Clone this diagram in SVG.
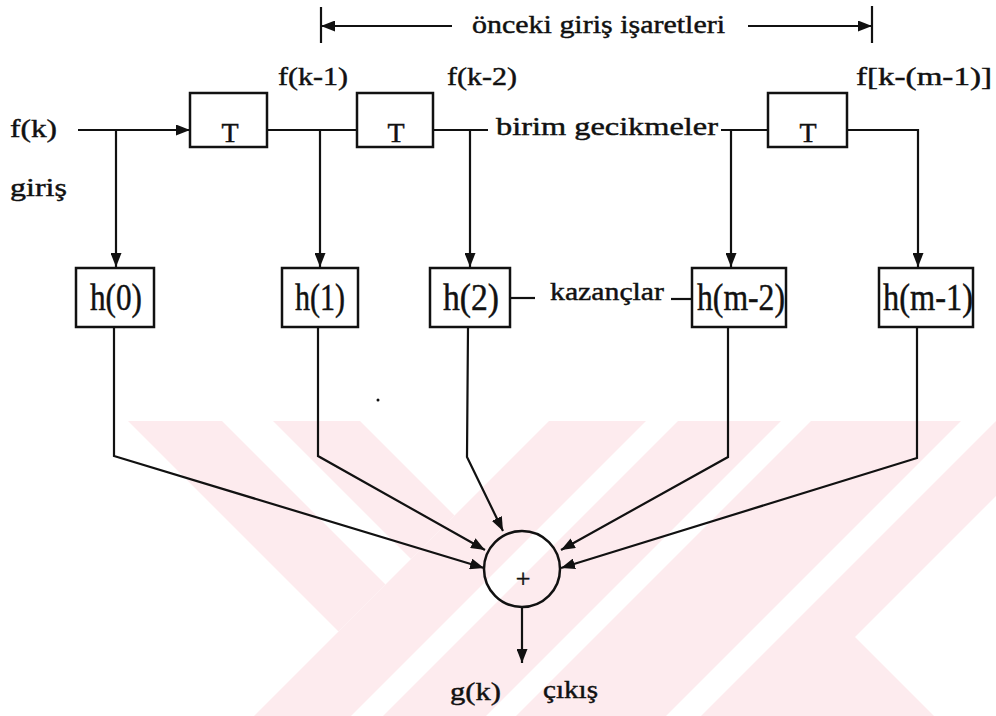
<svg xmlns="http://www.w3.org/2000/svg" width="996" height="716" viewBox="0 0 996 716" font-family="'Liberation Serif', 'Times New Roman', serif">
<style>
text{font-family:'Liberation Serif','Times New Roman',serif;fill:#111;stroke:#111;stroke-width:0.45;}
.lbl{font-size:26px;}
.t{font-size:28px;}
.h{font-size:38px;}
.box{fill:none;stroke:#111;stroke-width:2.5;}
.ln{fill:none;stroke:#111;stroke-width:2.2;}
.wm{fill:#fdebee;stroke:none;}
</style>
<defs>
<marker id="ah" markerUnits="userSpaceOnUse" markerWidth="14" markerHeight="11" refX="14" refY="5.5" orient="auto">
<path d="M0,0 L14,5.5 L0,11 Z" fill="#111"/>
</marker>
</defs>
<rect width="996" height="716" fill="#fff"/>
<g id="watermark">
<polygon class="wm" points="128,421 222,421 385.5,584.5 338.5,631.5"/>
<polygon class="wm" points="273,421 360,421 454.5,515.5 411,559"/>
<polygon class="wm" points="549,421 646,421 351,716 254,716"/>
<polygon class="wm" points="678,421 781,421 486,716 383,716"/>
<polygon class="wm" points="811,421 961,421 666,716 516,716"/>
<polygon class="wm" points="996,421 996,496 855,637 934,716 701,716"/>
</g>
<g id="connectors">
<line class="ln" x1="321" y1="7" x2="321" y2="43"/>
<line class="ln" x1="452" y1="26" x2="321" y2="26" marker-end="url(#ah)"/>
<line class="ln" x1="872" y1="6" x2="872" y2="43"/>
<line class="ln" x1="748" y1="26" x2="872" y2="26" marker-end="url(#ah)"/>
<line class="ln" x1="78" y1="130" x2="190" y2="130" marker-end="url(#ah)"/>
<line class="ln" x1="116" y1="130" x2="116" y2="267" marker-end="url(#ah)"/>
<line class="ln" x1="267" y1="130" x2="357" y2="130"/>
<line class="ln" x1="320" y1="130" x2="320" y2="267" marker-end="url(#ah)"/>
<line class="ln" x1="433" y1="130" x2="488" y2="130"/>
<line class="ln" x1="470" y1="130" x2="470" y2="267" marker-end="url(#ah)"/>
<line class="ln" x1="721" y1="130" x2="768" y2="130"/>
<line class="ln" x1="731" y1="130" x2="731" y2="267" marker-end="url(#ah)"/>
<polyline class="ln" points="847,130 918,130 918,267" marker-end="url(#ah)"/>
<line class="ln" x1="510" y1="298" x2="535" y2="298"/>
<line class="ln" x1="671" y1="299" x2="692" y2="299"/>
<polyline class="ln" points="114,327 114,456 484,568" marker-end="url(#ah)"/>
<polyline class="ln" points="318,327 318,456 485,550" marker-end="url(#ah)"/>
<polyline class="ln" points="468,327 467,457 503,531" marker-end="url(#ah)"/>
<polyline class="ln" points="728,327 728,457 561,550" marker-end="url(#ah)"/>
<polyline class="ln" points="917,327 917,458 561,568" marker-end="url(#ah)"/>
<line class="ln" x1="522" y1="608" x2="522" y2="663" marker-end="url(#ah)"/>
</g>
<g id="labels">
<text class="lbl" x="472" y="33" textLength="253" lengthAdjust="spacingAndGlyphs">önceki giriş işaretleri</text>
<text class="lbl" x="278" y="85" textLength="70" lengthAdjust="spacingAndGlyphs">f(k-1)</text>
<text class="lbl" x="447" y="85" textLength="70" lengthAdjust="spacingAndGlyphs">f(k-2)</text>
<text class="lbl" x="856" y="85" textLength="136" lengthAdjust="spacingAndGlyphs">f[k-(m-1)]</text>
<text class="lbl" x="10" y="137" textLength="47" lengthAdjust="spacingAndGlyphs">f(k)</text>
<text class="lbl" x="10" y="196" textLength="57" lengthAdjust="spacingAndGlyphs">giriş</text>
<text class="lbl" x="496" y="135" textLength="222" lengthAdjust="spacingAndGlyphs">birim gecikmeler</text>
<text class="lbl" x="550" y="300" textLength="114" lengthAdjust="spacingAndGlyphs">kazançlar</text>
<text class="lbl" x="450" y="700" textLength="51" lengthAdjust="spacingAndGlyphs">g(k)</text>
<text class="lbl" x="543" y="698" textLength="55" lengthAdjust="spacingAndGlyphs">çıkış</text>
<circle cx="378" cy="400" r="1.5" fill="#111"/>
</g>
<g id="T1"><rect class="box" x="190" y="93" width="77" height="54"/><text class="t" x="230" y="142" text-anchor="middle">T</text></g>
<g id="T2"><rect class="box" x="357" y="93" width="76" height="54"/><text class="t" x="396" y="142" text-anchor="middle">T</text></g>
<g id="T3"><rect class="box" x="768" y="93" width="79" height="54"/><text class="t" x="808" y="142" text-anchor="middle">T</text></g>
<g id="h0"><rect class="box" x="76" y="268" width="78" height="59"/><text class="h" x="90" y="310" textLength="52" lengthAdjust="spacingAndGlyphs">h(0)</text></g>
<g id="h1"><rect class="box" x="282" y="268" width="76" height="59"/><text class="h" x="295" y="310" textLength="50" lengthAdjust="spacingAndGlyphs">h(1)</text></g>
<g id="h2"><rect class="box" x="430" y="268" width="80" height="59"/><text class="h" x="443" y="310" textLength="56" lengthAdjust="spacingAndGlyphs">h(2)</text></g>
<g id="hm2"><rect class="box" x="692" y="268" width="94" height="59"/><text class="h" x="697" y="310" textLength="88" lengthAdjust="spacingAndGlyphs">h(m-2)</text></g>
<g id="hm1"><rect class="box" x="879" y="268" width="94" height="59"/><text class="h" x="883" y="310" textLength="90" lengthAdjust="spacingAndGlyphs">h(m-1)</text></g>
<g id="sum"><circle cx="522" cy="569" r="38" fill="none" stroke="#111" stroke-width="2.5"/><text class="lbl" x="523" y="587" text-anchor="middle" stroke-width="0.3">+</text></g>
</svg>
